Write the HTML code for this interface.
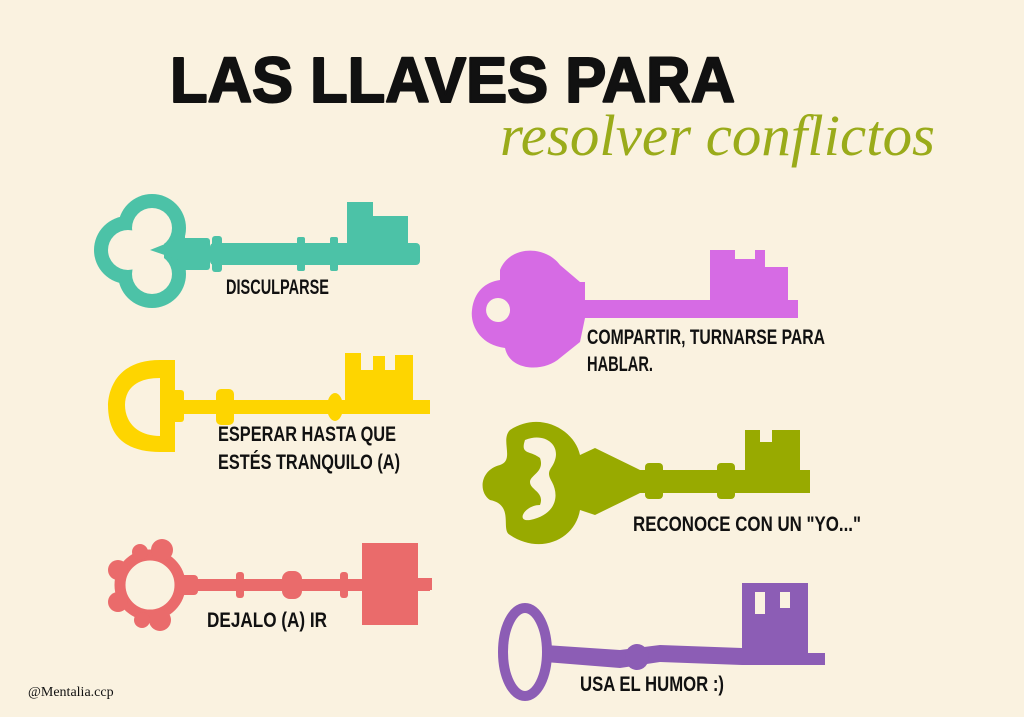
<!DOCTYPE html>
<html><head><meta charset="utf-8"><style>
html,body{margin:0;padding:0;background:#faf2e0;}
svg{display:block}
.l{font-family:"Liberation Sans",sans-serif;font-weight:bold;font-size:21px;fill:#111;}
</style></head><body>
<svg width="1024" height="717" viewBox="0 0 1024 717" xmlns="http://www.w3.org/2000/svg">
<rect width="1024" height="717" fill="#faf2e0"/>
<text x="170" y="102" textLength="565" lengthAdjust="spacingAndGlyphs" font-family="Liberation Sans,sans-serif" font-weight="bold" font-size="64" fill="#111" stroke="#111" stroke-width="2" stroke-linejoin="round">LAS LLAVES PARA</text>
<text x="500" y="155" textLength="435" lengthAdjust="spacingAndGlyphs" font-family="Liberation Serif,serif" font-style="italic" font-size="58" fill="#9aab1a">resolver conflictos</text>

<!-- teal -->
<g fill="#4cc2a7">
<circle cx="152" cy="228" r="34"/><circle cx="128" cy="250" r="34"/><circle cx="152" cy="274" r="34"/>
<g fill="#faf2e0">
<circle cx="152" cy="228" r="20"/><circle cx="128" cy="250" r="20"/><circle cx="152" cy="274" r="20"/>
<rect x="140" y="236" width="24" height="28"/>
</g>
<path d="M185 236 L150 250 L185 262 Z"/>
<rect x="180" y="238" width="30" height="32" rx="3"/>
<rect x="212" y="236" width="10" height="36" rx="3"/>
<rect x="210" y="243" width="210" height="22" rx="4"/>
<rect x="297" y="237" width="8" height="34" rx="2"/>
<rect x="330" y="237" width="8" height="34" rx="2"/>
<rect x="347" y="202" width="26" height="45"/>
<rect x="373" y="216" width="35" height="31"/>
</g>
<text class="l" x="226" y="294" textLength="103" lengthAdjust="spacingAndGlyphs">DISCULPARSE</text>

<!-- yellow -->
<g fill="#fed500">
<path d="M160 360 C110 360 108 400 108 405 C108 440 130 452 160 452 L175 452 L175 360 Z M160 378 L160 436 C135 436 125 420 125 405 C125 390 135 378 160 378 Z" fill-rule="evenodd"/>
<rect x="172" y="390" width="12" height="32" rx="3"/>
<rect x="180" y="400" width="250" height="14"/>
<rect x="216" y="389" width="18" height="36" rx="5"/>
<ellipse cx="335" cy="407" rx="8" ry="14"/>
<rect x="345" y="353" width="16" height="48"/>
<rect x="345" y="370" width="68" height="32"/>
<rect x="373" y="356" width="12" height="20"/>
<rect x="395" y="355" width="18" height="20"/>
</g>
<text class="l" x="218" y="441" textLength="178" lengthAdjust="spacingAndGlyphs">ESPERAR HASTA QUE</text>
<text class="l" x="218" y="469" textLength="182" lengthAdjust="spacingAndGlyphs">ESTÉS TRANQUILO (A)</text>

<!-- pink -->
<g fill="#ea6b6b">
<circle cx="150" cy="585" r="30" fill="none" stroke="#ea6b6b" stroke-width="11"/>
<circle cx="162" cy="550" r="11"/><circle cx="118" cy="570" r="10"/><circle cx="118" cy="602" r="10"/><circle cx="160" cy="620" r="11"/><circle cx="140" cy="552" r="8"/><circle cx="142" cy="620" r="8"/>
<rect x="178" y="575" width="20" height="20" rx="4"/>
<rect x="195" y="579" width="235" height="12"/>
<rect x="236" y="572" width="8" height="26" rx="3"/>
<rect x="282" y="571" width="20" height="28" rx="8"/>
<rect x="340" y="572" width="8" height="26" rx="3"/>
<rect x="362" y="543" width="56" height="82"/>
<rect x="418" y="578" width="14" height="12"/>
</g>
<text class="l" x="207" y="627" textLength="120" lengthAdjust="spacingAndGlyphs">DEJALO (A) IR</text>

<!-- magenta -->
<g fill="#d66be4">
<path d="M500 270 C510 245 545 245 560 265 L580 282 L585 282 L585 300 L798 300 L798 318 L585 318 L580 342 L560 358 C545 372 510 372 505 348 C480 345 470 325 472 310 C474 292 485 282 500 280 Z M498 298 A12 12 0 1 0 498.1 322 A12 12 0 1 0 498 298 Z" fill-rule="evenodd"/>
<rect x="710" y="250" width="78" height="52"/>
<rect x="735" y="249" width="20" height="10" fill="#faf2e0"/>
<rect x="765" y="249" width="25" height="18" fill="#faf2e0"/>
</g>
<text class="l" x="587" y="344" textLength="238" lengthAdjust="spacingAndGlyphs">COMPARTIR, TURNARSE PARA</text>
<text class="l" x="587" y="371" textLength="66" lengthAdjust="spacingAndGlyphs">HABLAR.</text>

<!-- olive -->
<g fill="#98aa00">
<path d="M510 430 C540 410 575 430 580 455 L595 448 L640 470 L810 470 L810 493 L640 493 L595 515 L580 510 C575 540 540 555 510 535 C500 530 515 505 490 500 C478 492 480 470 500 465 C515 460 500 440 510 430 Z M525 440 C545 432 560 445 555 460 C552 470 545 470 552 482 C560 497 555 515 530 520 C515 522 525 505 540 505 C545 492 530 490 530 482 C530 475 545 472 540 458 C530 450 520 455 525 440 Z" fill-rule="evenodd"/>
<rect x="645" y="463" width="18" height="36" rx="4"/>
<rect x="717" y="463" width="18" height="36" rx="4"/>
<rect x="745" y="430" width="55" height="42"/>
<rect x="760" y="430" width="12" height="12" fill="#faf2e0"/>
</g>
<text class="l" x="633" y="531" textLength="228" lengthAdjust="spacingAndGlyphs">RECONOCE CON UN "YO..."</text>

<!-- purple -->
<g fill="#8c5db5">
<ellipse cx="525" cy="652" rx="22" ry="44" fill="none" stroke="#8c5db5" stroke-width="10"/>
<path d="M545 645 L620 650 L660 645 L742 648 L742 665 L660 662 L620 668 L545 662 Z"/>
<ellipse cx="637" cy="657" rx="12" ry="13"/>
<rect x="742" y="583" width="66" height="82"/>
<rect x="755" y="592" width="10" height="22" fill="#faf2e0"/>
<rect x="780" y="592" width="10" height="16" fill="#faf2e0"/>
<rect x="800" y="653" width="25" height="12"/>
</g>
<text class="l" x="580" y="691" textLength="144" lengthAdjust="spacingAndGlyphs">USA EL HUMOR :)</text>

<text x="28" y="696" font-family="Liberation Serif,serif" font-size="14" fill="#111">@Mentalia.ccp</text>
</svg>
</body></html>
